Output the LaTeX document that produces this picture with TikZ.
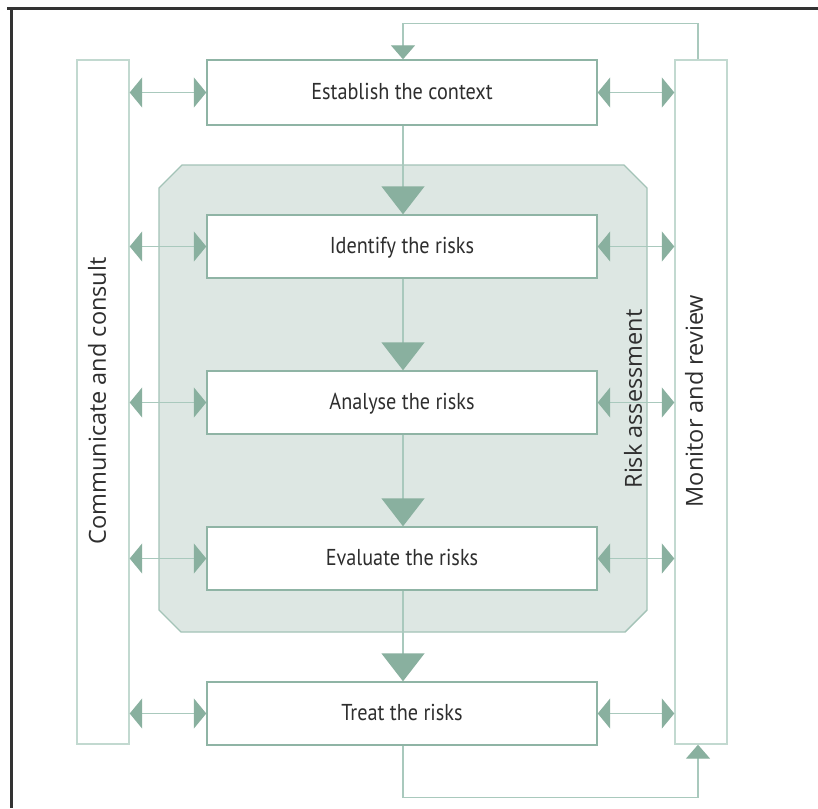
\documentclass[tikz,border=0pt]{standalone}
\usepackage{fontspec}
\usetikzlibrary{arrows.meta}
\newfontfamily\boxfont[FakeStretch=0.88]{PT Sans}
\newfontfamily\sidefont{Open Sans}
\definecolor{arrowc}{HTML}{89B09F}
\definecolor{linec}{HTML}{A9C9BD}
\definecolor{boxline}{HTML}{8FB4A5}
\definecolor{tallline}{HTML}{C2D9D0}
\definecolor{zonefill}{HTML}{DDE7E3}
\definecolor{zoneline}{HTML}{A3C3B7}
\definecolor{txt}{HTML}{2E2E2E}
\tikzset{
  mainbox/.style={draw=boxline, line width=1.4pt, fill=white, inner sep=0pt,
    minimum width=390pt, minimum height=63pt, text=txt,
    font=\boxfont\fontsize{23}{27}\selectfont, text height=15.5pt, text depth=2.5pt},
  tallbox/.style={draw=tallline, line width=1.4pt, fill=white, inner sep=0pt,
    minimum width=52pt, minimum height=684pt},
  sidelabel/.style={rotate=90, text=txt, inner sep=0pt,
    font=\sidefont\fontsize{23.5}{27}\selectfont},
  flow/.style={draw=linec, line width=1.4pt,
    -{Triangle[width=43pt,length=28pt,color=arrowc,fill=arrowc]}},
  loop/.style={draw=linec, line width=1.4pt,
    -{Triangle[width=24pt,length=14pt,color=arrowc,fill=arrowc]}},
  link/.style={draw=linec, line width=1.4pt,
    {Triangle[width=30pt,length=12.5pt,color=arrowc,fill=arrowc]}-{Triangle[width=30pt,length=12.5pt,color=arrowc,fill=arrowc]}},
  frame/.style={draw=black!80, line width=2.2pt}
}
\begin{document}
\begin{tikzpicture}[x=1pt,y=-1pt]
\useasboundingbox (0,0) rectangle (818,808);
\fill[white] (0,0) rectangle (818,808);

% page frame (top and left edges)
\draw[frame] (7,8.5) -- (818,8.5);
\draw[frame] (11.5,8.5) -- (11.5,808);

% shaded risk assessment zone
\path[fill=zonefill, draw=zoneline, line width=1.4pt]
  (159,188) -- (182,165) -- (624,165) -- (647,188) -- (647,610)
  -- (625,632) -- (181,632) -- (159,610) -- cycle;
\node[sidelabel] (ra) at (633,399) {Risk assessment};

% side columns
\node[tallbox] (com) at (103,402) {};
\node[tallbox] (mon) at (701,402) {};
\node[sidelabel] (comtxt) at (97,401) {Communicate and consult};
\node[sidelabel] (montxt) at (694,401) {Monitor and review};

% process steps
\node[mainbox, minimum height=65pt] (ctx) at (402,92.5) {Establish the context};
\node[mainbox] (idf) at (402,246.5) {Identify the risks};
\node[mainbox] (ana) at (402,402.5) {Analyse the risks};
\node[mainbox] (eva) at (402,558.5) {Evaluate the risks};
\node[mainbox] (trt) at (402,713.5) {Treat the risks};

% main flow
\draw[flow] ([xshift=1pt]ctx.south) -- ([xshift=1pt]idf.north);
\draw[flow] ([xshift=1pt]idf.south) -- ([xshift=1pt]ana.north);
\draw[flow] ([xshift=1pt]ana.south) -- ([xshift=1pt]eva.north);
\draw[flow] ([xshift=1pt]eva.south) -- ([xshift=1pt]trt.north);

% monitoring feedback loops
\coordinate (montop) at ([xshift=-3pt]mon.north);
\coordinate (monbot) at ([xshift=-3pt]mon.south);
\draw[loop] (montop) -- ++(0,-36) -| ([xshift=1pt]ctx.north);
\draw[loop] ([xshift=1pt]trt.south) -- ++(0,52) -| (monbot);

% links to the side columns
\foreach \s in {ctx,idf,ana,eva,trt}{
  \draw[link] (com.east |- \s.west) -- (\s.west);
  \draw[link] (\s.east) -- (mon.west |- \s.east);
}
\end{tikzpicture}
\end{document}
